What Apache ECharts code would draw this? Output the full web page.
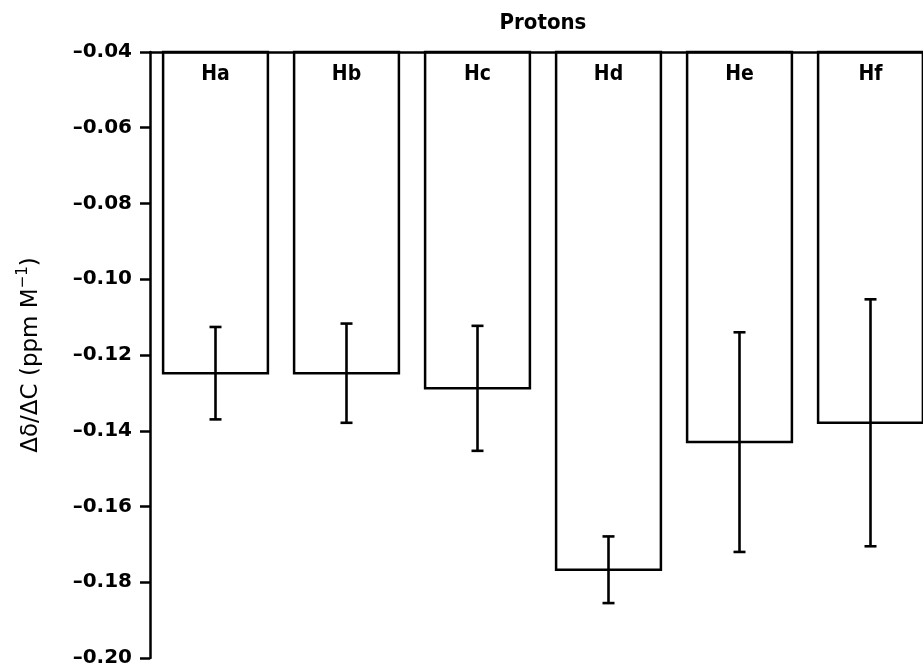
<!DOCTYPE html>
<html>
<head>
<meta charset="utf-8">
<script src="https://cdn.jsdelivr.net/npm/echarts@6/dist/echarts.min.js"></script>
<style>
  html, body { margin: 0; padding: 0; background: #fff; overflow: hidden; }
  /* the drawing surface is slightly wider than the window, so the last band is cut at the right edge */
  #chart { width: 936px; height: 668px; }
</style>
</head>
<body>
<div id="chart"></div>
<script>
// Proton chemical-shift slopes with their uncertainties
const categories = ['Ha', 'Hb', 'Hc', 'Hd', 'He', 'Hf'];
const shiftSlopes = [-0.1248, -0.1248, -0.1288, -0.1767, -0.1430, -0.1379];
const slopeErrors = [0.0122, 0.0131, 0.0165, 0.0088, 0.0290, 0.0326];
const yTicks = [-0.20, -0.18, -0.16, -0.14, -0.12, -0.10, -0.08, -0.06, -0.04];

const yMin = yTicks[0];
const yMax = yTicks[yTicks.length - 1];
const yStep = Math.round((yTicks[1] - yTicks[0]) * 1000) / 1000;
const barBase = yMax; // bars hang from the top of the value range

const chart = echarts.init(document.getElementById('chart'), null, { renderer: 'canvas' });

const barData = categories.map((c, i) => [i, shiftSlopes[i]]);
const errData = categories.map((c, i) => [i, shiftSlopes[i], slopeErrors[i]]);

function renderBar(params, api) {
  const i = api.value(0);
  const top = api.coord([i, barBase]);
  const bot = api.coord([i, api.value(1)]);
  const w = api.size([1, 0])[0] * 0.8;
  return {
    type: 'rect',
    shape: { x: top[0] - w / 2, y: top[1], width: w, height: bot[1] - top[1] },
    style: { fill: 'rgba(255,255,255,0)', stroke: '#000', lineWidth: 2.5 }
  };
}

function renderError(params, api) {
  const i = api.value(0);
  const v = api.value(1);
  const e = api.value(2);
  const hi = api.coord([i, v + e]);
  const lo = api.coord([i, v - e]);
  const cap = 6;
  const st = { stroke: '#000', lineWidth: 2.6 };
  return {
    type: 'group',
    children: [
      { type: 'line', shape: { x1: hi[0], y1: hi[1], x2: lo[0], y2: lo[1] }, style: st },
      { type: 'line', shape: { x1: hi[0] - cap, y1: hi[1], x2: hi[0] + cap, y2: hi[1] }, style: st },
      { type: 'line', shape: { x1: lo[0] - cap, y1: lo[1], x2: lo[0] + cap, y2: lo[1] }, style: st }
    ]
  };
}

const option = {
  animation: false,
  backgroundColor: '#fff',
  grid: { left: 150, top: 52, right: 0, bottom: 10, containLabel: false },
  xAxis: {
    type: 'category',
    data: categories,
    position: 'top',
    boundaryGap: true,
    name: 'Protons',
    nameLocation: 'middle',
    nameGap: 18,
    nameTextStyle: { fontFamily: 'DejaVu Sans Condensed', fontWeight: 'bold', fontSize: 22, color: '#000' },
    axisLine: { show: true, lineStyle: { color: '#000', width: 2.5 } },
    axisTick: { show: false },
    axisLabel: {
      inside: true,
      margin: 12,
      fontFamily: 'DejaVu Sans Condensed',
      fontWeight: 'bold',
      fontSize: 21,
      color: '#000'
    },
    splitLine: { show: false },
    z: 5
  },
  yAxis: {
    type: 'value',
    min: yMin,
    max: yMax,
    interval: yStep,
    name: '{a|\u0394\u03b4/\u0394C (ppm M}{s|\u22121}{a|)}',
    nameLocation: 'middle',
    nameGap: 104,
    nameRotate: 90,
    nameTextStyle: {
      color: '#000',
      rich: {
        a: { fontFamily: 'DejaVu Sans', fontSize: 23, color: '#000', lineHeight: 30 },
        s: { fontFamily: 'DejaVu Sans', fontSize: 15, color: '#000', verticalAlign: 'top', lineHeight: 30 }
      }
    },
    axisLine: { show: true, lineStyle: { color: '#000', width: 2.5 } },
    axisTick: { show: true, length: 10, lineStyle: { color: '#000', width: 2.5 } },
    axisLabel: {
      margin: 18,
      fontFamily: 'DejaVu Sans',
      fontWeight: 'bold',
      fontSize: 20,
      color: '#000',
      formatter: v => v.toFixed(2).replace('-', '\u2013')
    },
    splitLine: { show: false }
  },
  series: [
    {
      type: 'custom',
      name: 'slope',
      renderItem: renderBar,
      encode: { x: 0, y: 1 },
      data: barData,
      clip: false,
      z: 2
    },
    {
      type: 'custom',
      name: 'error',
      renderItem: renderError,
      encode: { x: 0, y: [1] },
      data: errData,
      clip: false,
      z: 3
    }
  ]
};

chart.setOption(option);
</script>
</body>
</html>
